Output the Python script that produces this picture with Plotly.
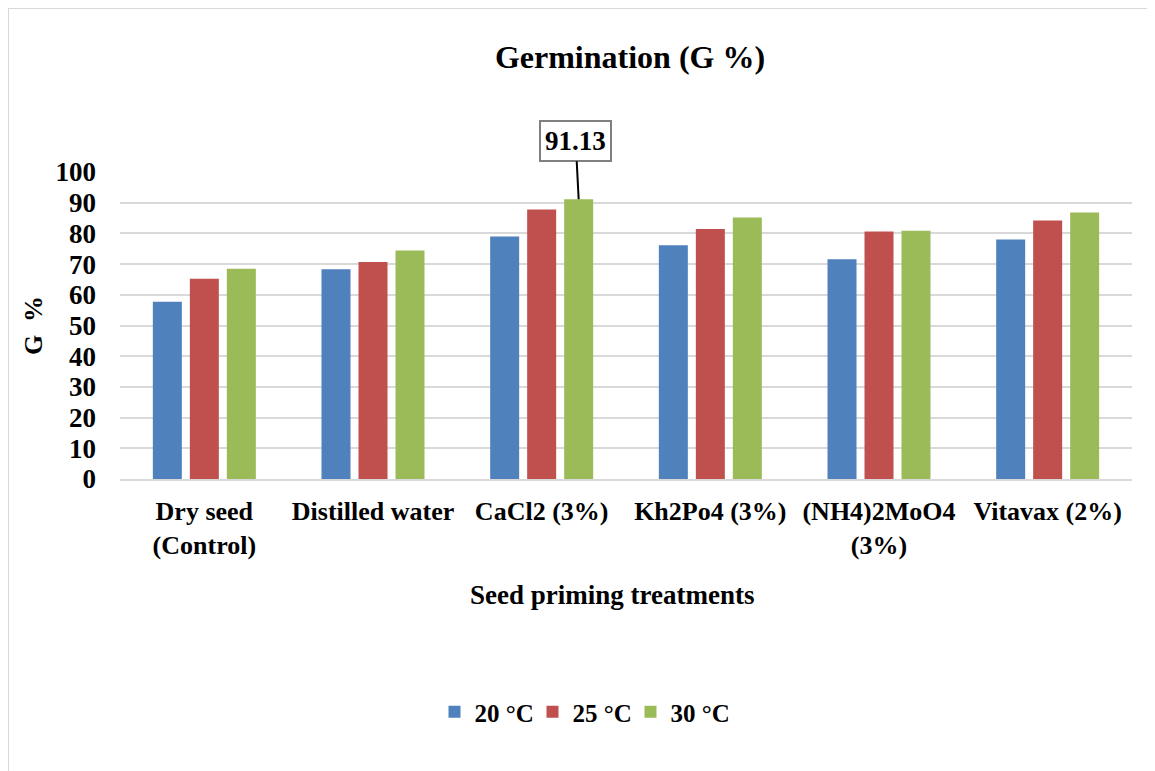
import plotly.graph_objects as go

categories = ["Dry seed<br>(Control)", "Distilled water", "CaCl2 (3%)", "Kh2Po4 (3%)",
              "(NH4)2MoO4<br>(3%)", "Vitavax (2%)"]
series_names = ["20 °C", "25 °C", "30 °C"]
g20 = [57.7, 68.3, 79.0, 76.1, 71.6, 78.0]
g25 = [65.2, 70.7, 87.8, 81.4, 80.6, 84.2]
g30 = [68.5, 74.4, 91.13, 85.2, 80.9, 86.8]
colors = ["#4F81BD", "#C0504D", "#9BBB59"]
y_ticks = list(range(0, 101, 10))
highlight_label = "91.13"

FONT = "Liberation Serif"
OFF = 8  # page body margin
W, H = 1155 - OFF, 771 - OFF
L, R, T, B = 112, 23, 164, 292
pw = W - L - R
ph = H - T - B

def px_x(x):  # screen x -> paper
    return (x - OFF - L) / pw

def px_y(y):  # screen y -> paper
    return (H - B - (y - OFF)) / ph

def bold(size):
    return dict(family=FONT, size=size, color="black", weight="bold")

fig = go.Figure()
for name, vals, c in zip(series_names, [g20, g25, g30], colors):
    fig.add_trace(go.Bar(x=categories, y=vals, name=name, marker_color=c,
                         marker_line_width=0))

fig.update_layout(
    width=W, height=H,
    margin=dict(l=L, r=R, t=T, b=B),
    paper_bgcolor="white", plot_bgcolor="white",
    font=bold(26),
    barmode="group", bargap=0.342, bargroupgap=0.216,
    title=dict(text="Germination (G %)", font=bold(32),
               x=px_x(630), xref="paper", xanchor="center",
               y=1 - (57 - OFF) / H, yref="container", yanchor="middle"),
    legend=dict(orientation="h", x=px_x(581.5), xanchor="center",
                y=px_y(712), yanchor="middle",
                font=bold(25), itemsizing="constant",
                entrywidth=53, entrywidthmode="pixels"),
    showlegend=True,
)
fig.update_xaxes(
    tickfont=bold(26), showgrid=False,
    showline=True, linecolor="#D9D9D9", linewidth=2,
    ticklabelstandoff=8,
)
fig.update_yaxes(
    range=[0, 100], tickvals=y_ticks,
    tickfont=bold(27),
    showgrid=True, gridcolor="#D9D9D9", gridwidth=2, zeroline=False,
    showline=False, ticklabelstandoff=23,
    title=dict(text="G  %", font=bold(26), standoff=5),
)

# x-axis title (placed as in the reference, slightly left of the plot centre)
fig.add_annotation(
    x=px_x(612), y=px_y(595), xref="paper", yref="paper",
    xanchor="center", yanchor="middle", showarrow=False,
    text="Seed priming treatments", font=bold(27),
)

fig.add_annotation(
    x=categories[2], y=g30[2], xref="x", yref="y", xshift=37,
    text=highlight_label, showarrow=True, arrowhead=0,
    arrowwidth=2, arrowcolor="black", ax=-3, ay=-58,
    font=bold(27),
    bordercolor="#808080", borderwidth=2, borderpad=4, bgcolor="white",
)

fig.add_shape(type="rect", xref="paper", yref="paper",
              x0=px_x(8), x1=px_x(1175), y0=px_y(800), y1=px_y(8),
              line=dict(color="#D9D9D9", width=2), fillcolor="rgba(0,0,0,0)",
              layer="below")

fig.write_html("out.html")
